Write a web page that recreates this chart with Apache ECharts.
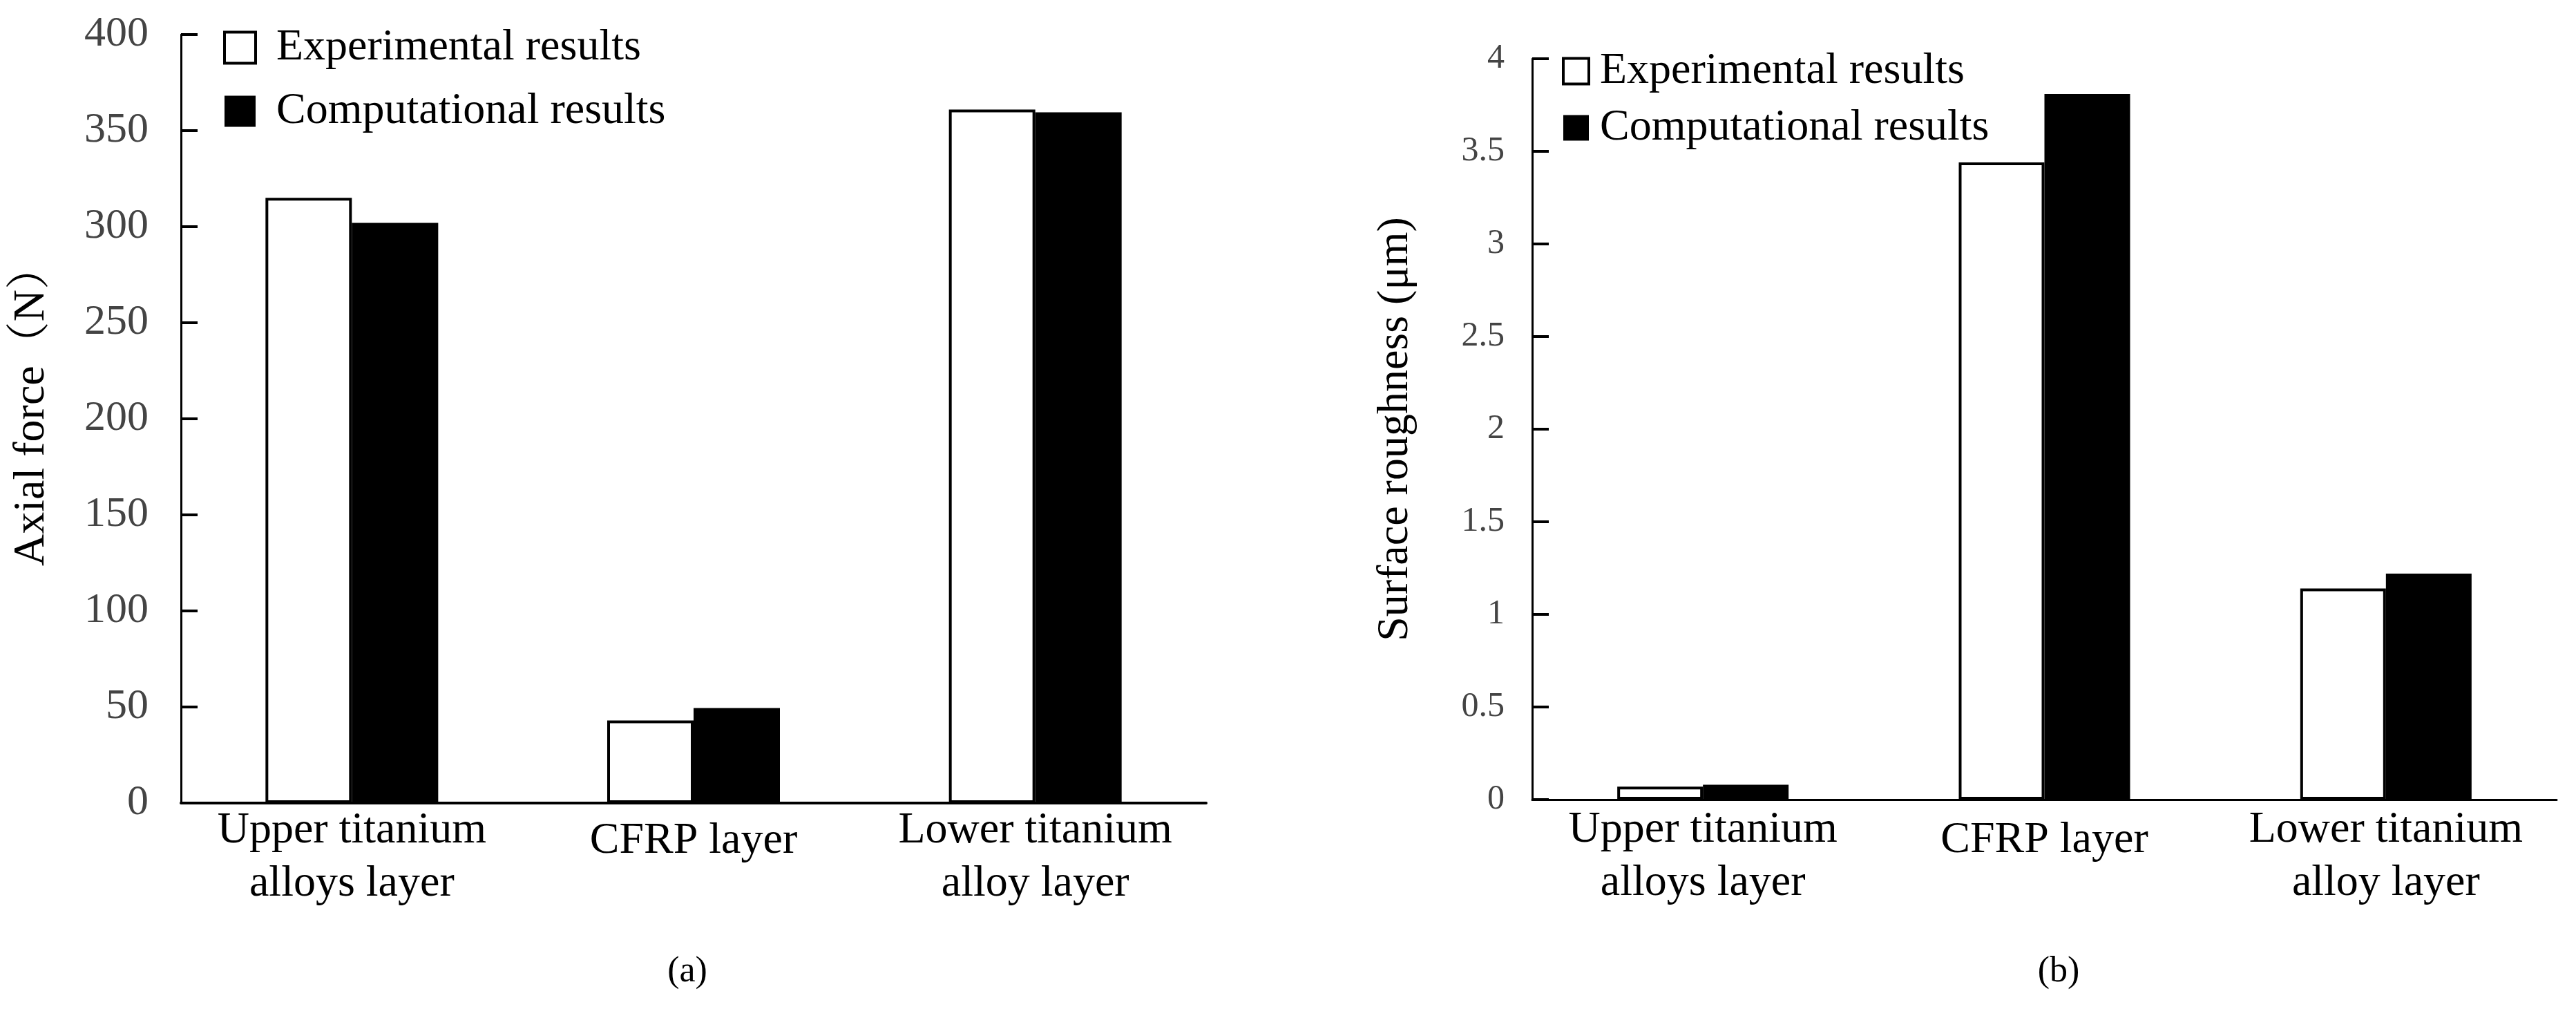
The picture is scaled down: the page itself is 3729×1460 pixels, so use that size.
<!DOCTYPE html>
<html>
<head>
<meta charset="utf-8">
<script src="https://cdn.jsdelivr.net/npm/echarts@6/dist/echarts.min.js"></script>
<style>
  html, body { margin: 0; padding: 0; background: #fff; }
  #chart { width: 3729px; height: 1460px; }
</style>
</head>
<body>
<div id="chart"></div>
<script>
// 数据
const categories = ['Upper titanium\nalloys layer', 'CFRP layer', 'Lower titanium\nalloy layer'];
const seriesNames = ['Experimental results', 'Computational results'];
const forceExp = [315, 43, 361];
const forceComp = [302, 49.5, 359.5];
const roughExp = [0.07, 3.44, 1.14];
const roughComp = [0.08, 3.81, 1.22];
const forceTicks = [0, 400, 50];   // min, max, interval
const roughTicks = [0, 4, 0.5];

const serif = "'Liberation Serif', 'Noto Serif CJK SC', 'Noto Sans CJK SC', serif";

const chart = echarts.init(document.getElementById('chart'));

function catAxis(gridIndex, margin, lineWidth) {
  return {
    type: 'category',
    gridIndex: gridIndex,
    data: categories,
    axisLine: { lineStyle: { color: '#000', width: lineWidth } },
    axisTick: { show: false },
    axisLabel: {
      interval: 0,
      margin: margin,
      color: '#000',
      fontFamily: serif,
      fontSize: 64,
      lineHeight: 77,
      verticalAlign: 'top',
      // 单行标签稍微往下
      formatter: v => v.indexOf('\n') < 0 ? '{c|' + v + '}' : v,
      rich: { c: { fontFamily: serif, fontSize: 64, lineHeight: 107, color: '#000' } }
    }
  };
}

function valAxis(gridIndex, ticks, name, nameGap, labelSize, labelMargin, namePad) {
  return {
    type: 'value',
    gridIndex: gridIndex,
    min: ticks[0],
    max: ticks[1],
    interval: ticks[2],
    name: name,
    nameLocation: 'middle',
    nameGap: nameGap,
    nameTextStyle: { fontFamily: serif, fontSize: 64, color: '#000', padding: namePad },
    axisLine: { show: true, lineStyle: { color: '#000', width: 3 } },
    axisTick: { show: true, inside: true, length: 24, lineStyle: { color: '#000', width: 4 } },
    splitLine: { show: false },
    axisLabel: { color: '#444', fontFamily: serif, fontSize: labelSize, margin: labelMargin }
  };
}

function legend(left, top, size, gap, textPad) {
  return {
    orient: 'vertical',
    left: left,
    top: top,
    padding: 0,
    icon: 'rect',
    itemWidth: size,
    itemHeight: size,
    itemGap: gap,
    textStyle: { fontFamily: serif, fontSize: 64, lineHeight: 64, color: '#000', padding: [0, 0, 0, textPad] },
    data: [
      { name: seriesNames[0], itemStyle: { color: '#fff', borderColor: '#000', borderWidth: 4 } },
      { name: seriesNames[1], itemStyle: { color: '#000' } }
    ]
  };
}

function bars(idx, exp, comp, width) {
  return [
    {
      name: seriesNames[0], type: 'bar', xAxisIndex: idx, yAxisIndex: idx,
      data: exp, barWidth: width, barGap: '0%',
      itemStyle: { color: '#fff', borderColor: '#000', borderWidth: 4 }
    },
    {
      name: seriesNames[1], type: 'bar', xAxisIndex: idx, yAxisIndex: idx,
      data: comp, barWidth: width, barGap: '0%',
      itemStyle: { color: '#000' }
    }
  ];
}

chart.setOption({
  animation: false,
  backgroundColor: '#fff',
  title: [
    { text: '(a)', left: 995, top: 1380, textAlign: 'center', padding: 0,
      textStyle: { fontFamily: serif, fontSize: 52, fontWeight: 'normal', color: '#000' } },
    { text: '(b)', left: 2980, top: 1380, textAlign: 'center', padding: 0,
      textStyle: { fontFamily: serif, fontSize: 52, fontWeight: 'normal', color: '#000' } }
  ],
  legend: [
    legend(323, 37, 45, 28, 25),
    legend(2261, 71, 37, 18, 11)
  ],
  grid: [
    { left: 262, top: 50, width: 1484, height: 1112 },
    { left: 2218, top: 85, width: 1483, height: 1072 }
  ],
  xAxis: [catAxis(0, 2, 4), catAxis(1, 6, 3)],
  yAxis: [
    valAxis(0, forceTicks, 'Axial force（N）', 184, 62, 47, [0, 0, 0, 38]),
    valAxis(1, roughTicks, 'Surface roughness (μm)', 166, 50, 40, 0)
  ],
  series: [].concat(bars(0, forceExp, forceComp, 125), bars(1, roughExp, roughComp, 124))
});
</script>
</body>
</html>
